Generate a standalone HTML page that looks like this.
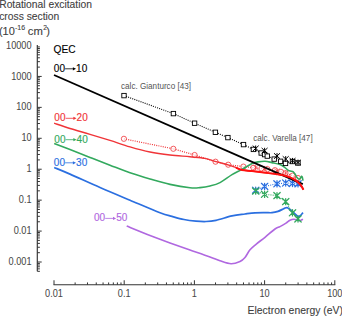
<!DOCTYPE html>
<html><head><meta charset="utf-8"><style>
html,body{margin:0;padding:0;background:#fff;}
body{width:342px;height:316px;overflow:hidden;position:relative;}
svg{position:absolute;left:0;top:0;font-family:"Liberation Sans", sans-serif;}
text{paint-order:stroke;}
</style></head><body>
<svg width="342" height="316" viewBox="0 0 342 316">
<path d="M37.3,45.00 L37.3,271.32" stroke="#333" stroke-width="1.15"/>
<path d="M37.3,271.32 h2.6 M37.3,268.87 h2.6 M37.3,266.80 h2.6 M37.3,265.01 h2.6 M37.3,263.43 h2.6 M37.3,262.01 h4.4 M37.3,252.70 h2.6 M37.3,247.25 h2.6 M37.3,243.39 h2.6 M37.3,240.39 h2.6 M37.3,237.94 h2.6 M37.3,235.87 h2.6 M37.3,234.08 h2.6 M37.3,232.50 h2.6 M37.3,231.08 h4.4 M37.3,221.77 h2.6 M37.3,216.32 h2.6 M37.3,212.46 h2.6 M37.3,209.46 h2.6 M37.3,207.01 h2.6 M37.3,204.94 h2.6 M37.3,203.15 h2.6 M37.3,201.57 h2.6 M37.3,200.15 h4.4 M37.3,190.84 h2.6 M37.3,185.39 h2.6 M37.3,181.53 h2.6 M37.3,178.53 h2.6 M37.3,176.08 h2.6 M37.3,174.01 h2.6 M37.3,172.22 h2.6 M37.3,170.64 h2.6 M37.3,169.22 h4.4 M37.3,159.91 h2.6 M37.3,154.46 h2.6 M37.3,150.60 h2.6 M37.3,147.60 h2.6 M37.3,145.15 h2.6 M37.3,143.08 h2.6 M37.3,141.29 h2.6 M37.3,139.71 h2.6 M37.3,138.29 h4.4 M37.3,128.98 h2.6 M37.3,123.53 h2.6 M37.3,119.67 h2.6 M37.3,116.67 h2.6 M37.3,114.22 h2.6 M37.3,112.15 h2.6 M37.3,110.36 h2.6 M37.3,108.78 h2.6 M37.3,107.36 h4.4 M37.3,98.05 h2.6 M37.3,92.60 h2.6 M37.3,88.74 h2.6 M37.3,85.74 h2.6 M37.3,83.29 h2.6 M37.3,81.22 h2.6 M37.3,79.43 h2.6 M37.3,77.85 h2.6 M37.3,76.43 h4.4 M37.3,67.12 h2.6 M37.3,61.67 h2.6 M37.3,57.81 h2.6 M37.3,54.81 h2.6 M37.3,52.36 h2.6 M37.3,50.29 h2.6 M37.3,48.50 h2.6 M37.3,46.92 h2.6" stroke="#333" stroke-width="1"/>
<path d="M53.50,284.75 L335.30,284.75" stroke="#333" stroke-width="1.15"/>
<path d="M54.00,284.75 v-4.5 M75.13,284.75 v-2.3 M87.49,284.75 v-2.3 M96.26,284.75 v-2.3 M103.07,284.75 v-2.3 M108.63,284.75 v-2.3 M113.33,284.75 v-2.3 M117.40,284.75 v-2.3 M120.99,284.75 v-2.3 M124.20,284.75 v-4.5 M145.33,284.75 v-2.3 M157.69,284.75 v-2.3 M166.46,284.75 v-2.3 M173.27,284.75 v-2.3 M178.83,284.75 v-2.3 M183.53,284.75 v-2.3 M187.60,284.75 v-2.3 M191.19,284.75 v-2.3 M194.40,284.75 v-4.5 M215.53,284.75 v-2.3 M227.89,284.75 v-2.3 M236.66,284.75 v-2.3 M243.47,284.75 v-2.3 M249.03,284.75 v-2.3 M253.73,284.75 v-2.3 M257.80,284.75 v-2.3 M261.39,284.75 v-2.3 M264.60,284.75 v-4.5 M285.73,284.75 v-2.3 M298.09,284.75 v-2.3 M306.86,284.75 v-2.3 M313.67,284.75 v-2.3 M319.23,284.75 v-2.3 M323.93,284.75 v-2.3 M328.00,284.75 v-2.3 M331.59,284.75 v-2.3 M334.80,284.75 v-4.5" stroke="#333" stroke-width="1"/>
<text transform="translate(31.60,48.60) scale(0.92,1)" font-size="10" text-anchor="end" fill="#474747" stroke="#474747" stroke-width="0.05">10000</text>
<text transform="translate(31.60,79.53) scale(0.92,1)" font-size="10" text-anchor="end" fill="#474747" stroke="#474747" stroke-width="0.05">1000</text>
<text transform="translate(31.60,110.46) scale(0.92,1)" font-size="10" text-anchor="end" fill="#474747" stroke="#474747" stroke-width="0.05">100</text>
<text transform="translate(31.60,141.39) scale(0.92,1)" font-size="10" text-anchor="end" fill="#474747" stroke="#474747" stroke-width="0.05">10</text>
<text transform="translate(31.60,172.32) scale(0.92,1)" font-size="10" text-anchor="end" fill="#474747" stroke="#474747" stroke-width="0.05">1</text>
<text transform="translate(31.60,203.25) scale(0.92,1)" font-size="10" text-anchor="end" fill="#474747" stroke="#474747" stroke-width="0.05">0.1</text>
<text transform="translate(31.60,234.18) scale(0.92,1)" font-size="10" text-anchor="end" fill="#474747" stroke="#474747" stroke-width="0.05">0.01</text>
<text transform="translate(31.60,265.11) scale(0.92,1)" font-size="10" text-anchor="end" fill="#474747" stroke="#474747" stroke-width="0.05">0.001</text>
<text transform="translate(54.00,297.30) scale(0.92,1)" font-size="10" text-anchor="middle" fill="#474747" stroke="#474747" stroke-width="0.05">0.01</text>
<text transform="translate(124.20,297.30) scale(0.92,1)" font-size="10" text-anchor="middle" fill="#474747" stroke="#474747" stroke-width="0.05">0.1</text>
<text transform="translate(194.40,297.30) scale(0.92,1)" font-size="10" text-anchor="middle" fill="#474747" stroke="#474747" stroke-width="0.05">1</text>
<text transform="translate(264.60,297.30) scale(0.92,1)" font-size="10" text-anchor="middle" fill="#474747" stroke="#474747" stroke-width="0.05">10</text>
<text transform="translate(334.80,297.30) scale(0.92,1)" font-size="10" text-anchor="middle" fill="#474747" stroke="#474747" stroke-width="0.05">100</text>
<text x="-0.80" y="7.60" font-size="10.3" fill="#404040" stroke="#404040" stroke-width="0.1">Rotational excitation</text>
<text x="-0.80" y="20.40" font-size="10.3" fill="#404040" stroke="#404040" stroke-width="0.1">cross section</text>
<text x="-1.07" y="34.80" font-size="11" fill="#404040" stroke="#404040" stroke-width="0.1">(10</text>
<text x="15.00" y="30.40" font-size="7" fill="#404040" stroke="#404040" stroke-width="0.1">-16</text>
<text x="27.80" y="34.80" font-size="11.3" fill="#404040" stroke="#404040" stroke-width="0.1">cm</text>
<text x="43.20" y="30.40" font-size="6.6" fill="#404040" stroke="#404040" stroke-width="0.1">2</text>
<text x="46.30" y="34.80" font-size="11" fill="#404040" stroke="#404040" stroke-width="0.1">)</text>
<text x="247.60" y="314.10" font-size="10.4" fill="#404040" stroke="#404040" stroke-width="0.1">Electron energy (eV)</text>
<text x="53.50" y="53.20" font-size="10.2" fill="#000" stroke="#000" stroke-width="0.12">QEC</text>
<text x="53.85" y="71.70" font-size="10" fill="#000" stroke="#000" stroke-width="0.12">00</text>
<path d="M65.10,68.80 H73.80" stroke="#000" stroke-width="0.8" fill="none"/>
<path d="M72.90,67.20 L76.00,68.80 L72.90,70.40 Z" fill="#000"/>
<text x="76.10" y="71.70" font-size="10" fill="#000" stroke="#000" stroke-width="0.12">10</text>
<text x="54.35" y="121.20" font-size="10" fill="#f03438" stroke="#f03438" stroke-width="0.15">00</text>
<path d="M65.60,118.30 H74.30" stroke="#f03438" stroke-width="0.8" fill="none"/>
<path d="M73.40,116.70 L76.50,118.30 L73.40,119.90 Z" fill="#f03438"/>
<text x="76.60" y="121.20" font-size="10" fill="#f03438" stroke="#f03438" stroke-width="0.15">20</text>
<text x="54.35" y="142.60" font-size="10" fill="#33a95e" stroke="#33a95e" stroke-width="0.15">00</text>
<path d="M65.60,139.70 H74.30" stroke="#33a95e" stroke-width="0.8" fill="none"/>
<path d="M73.40,138.10 L76.50,139.70 L73.40,141.30 Z" fill="#33a95e"/>
<text x="76.60" y="142.60" font-size="10" fill="#33a95e" stroke="#33a95e" stroke-width="0.15">40</text>
<text x="53.85" y="165.70" font-size="10" fill="#2b6fe0" stroke="#2b6fe0" stroke-width="0.15">00</text>
<path d="M65.10,162.80 H73.80" stroke="#2b6fe0" stroke-width="0.8" fill="none"/>
<path d="M72.90,161.20 L76.00,162.80 L72.90,164.40 Z" fill="#2b6fe0"/>
<text x="76.10" y="165.70" font-size="10" fill="#2b6fe0" stroke="#2b6fe0" stroke-width="0.15">30</text>
<text x="93.95" y="221.30" font-size="10" fill="#b068e0" stroke="#b068e0" stroke-width="0.15">00</text>
<path d="M105.20,218.40 H113.90" stroke="#b068e0" stroke-width="0.8" fill="none"/>
<path d="M113.00,216.80 L116.10,218.40 L113.00,220.00 Z" fill="#b068e0"/>
<text x="116.20" y="221.30" font-size="10" fill="#b068e0" stroke="#b068e0" stroke-width="0.15">50</text>
<text x="121.00" y="89.00" font-size="8.15" fill="#555">calc. Gianturco [43]</text>
<text x="253.20" y="140.90" font-size="8.15" fill="#555">calc. Varella [47]</text>
<path d="M126.70,226.10 C130.58,227.67 142.78,232.70 150.00,235.50 C157.22,238.30 163.33,240.50 170.00,242.90 C176.67,245.30 183.33,247.57 190.00,249.90 C196.67,252.23 205.00,255.08 210.00,256.90 C215.00,258.72 216.50,259.65 220.00,260.80 C223.50,261.95 227.67,263.68 231.00,263.80 C234.33,263.92 237.67,262.55 240.00,261.50 C242.33,260.45 243.33,259.45 245.00,257.50 C246.67,255.55 248.17,252.00 250.00,249.80 C251.83,247.60 253.50,246.38 256.00,244.30 C258.50,242.22 261.83,239.85 265.00,237.30 C268.17,234.75 272.50,230.78 275.00,229.00 C277.50,227.22 278.17,227.58 280.00,226.60 C281.83,225.62 284.33,224.17 286.00,223.10 C287.67,222.03 288.67,220.83 290.00,220.20 C291.33,219.57 292.67,219.28 294.00,219.30 C295.33,219.32 297.00,220.07 298.00,220.30 C299.00,220.53 299.17,220.88 300.00,220.70 C300.83,220.52 302.50,219.45 303.00,219.20" stroke="#b068e0" stroke-width="1.6" fill="none"/>
<path d="M54.20,167.50 C56.83,168.60 62.37,170.77 70.00,174.10 C77.63,177.43 90.00,183.15 100.00,187.50 C110.00,191.85 120.00,196.00 130.00,200.20 C140.00,204.40 153.00,210.00 160.00,212.70 C167.00,215.40 168.00,215.27 172.00,216.40 C176.00,217.53 180.00,218.72 184.00,219.50 C188.00,220.28 192.33,220.77 196.00,221.10 C199.67,221.43 202.67,221.63 206.00,221.50 C209.33,221.37 211.67,221.23 216.00,220.30 C220.33,219.37 227.17,216.95 232.00,215.90 C236.83,214.85 241.17,214.52 245.00,214.00 C248.83,213.48 251.67,213.03 255.00,212.80 C258.33,212.57 262.17,212.62 265.00,212.60 C267.83,212.58 269.83,212.90 272.00,212.70 C274.17,212.50 276.00,212.08 278.00,211.40 C280.00,210.72 282.50,209.23 284.00,208.60 C285.50,207.97 286.00,207.45 287.00,207.60 C288.00,207.75 288.83,208.63 290.00,209.50 C291.17,210.37 292.83,211.77 294.00,212.80 C295.17,213.83 296.17,215.10 297.00,215.70 C297.83,216.30 298.33,216.52 299.00,216.40 C299.67,216.28 300.33,215.63 301.00,215.00 C301.67,214.37 302.67,213.00 303.00,212.60" stroke="#2b6fe0" stroke-width="1.7" fill="none"/>
<path d="M255.70,190.20 L264.60,186.40 L277.00,183.80 L285.70,183.00 L292.50,183.40 L298.00,183.80" stroke="#2b6fe0" stroke-width="1.1" stroke-dasharray="1 1.2" fill="none"/>
<path d="M252.50,187.10 L258.90,193.30 M252.50,193.30 L258.90,187.10 M255.70,187.10 v6.20" stroke="#2b6fe0" stroke-width="1.25" stroke-linecap="round" fill="none"/>
<path d="M261.40,183.30 L267.80,189.50 M261.40,189.50 L267.80,183.30 M264.60,183.30 v6.20" stroke="#2b6fe0" stroke-width="1.25" stroke-linecap="round" fill="none"/>
<path d="M273.80,180.70 L280.20,186.90 M273.80,186.90 L280.20,180.70 M277.00,180.70 v6.20" stroke="#2b6fe0" stroke-width="1.25" stroke-linecap="round" fill="none"/>
<path d="M282.50,179.90 L288.90,186.10 M282.50,186.10 L288.90,179.90 M285.70,179.90 v6.20" stroke="#2b6fe0" stroke-width="1.25" stroke-linecap="round" fill="none"/>
<path d="M289.30,180.30 L295.70,186.50 M289.30,186.50 L295.70,180.30 M292.50,180.30 v6.20" stroke="#2b6fe0" stroke-width="1.25" stroke-linecap="round" fill="none"/>
<path d="M294.80,180.70 L301.20,186.90 M294.80,186.90 L301.20,180.70 M298.00,180.70 v6.20" stroke="#2b6fe0" stroke-width="1.25" stroke-linecap="round" fill="none"/>
<path d="M255.70,191.10 L264.60,194.30 L277.00,195.60 L285.70,201.60 L292.50,212.80 L298.00,218.90" stroke="#33a95e" stroke-width="1.1" stroke-dasharray="1 1.2" fill="none"/>
<path d="M252.50,188.00 L258.90,194.20 M252.50,194.20 L258.90,188.00 M255.70,188.00 v6.20" stroke="#33a95e" stroke-width="1.25" stroke-linecap="round" fill="none"/>
<path d="M261.40,191.20 L267.80,197.40 M261.40,197.40 L267.80,191.20 M264.60,191.20 v6.20" stroke="#33a95e" stroke-width="1.25" stroke-linecap="round" fill="none"/>
<path d="M273.80,192.50 L280.20,198.70 M273.80,198.70 L280.20,192.50 M277.00,192.50 v6.20" stroke="#33a95e" stroke-width="1.25" stroke-linecap="round" fill="none"/>
<path d="M282.50,198.50 L288.90,204.70 M282.50,204.70 L288.90,198.50 M285.70,198.50 v6.20" stroke="#33a95e" stroke-width="1.25" stroke-linecap="round" fill="none"/>
<path d="M289.30,209.70 L295.70,215.90 M289.30,215.90 L295.70,209.70 M292.50,209.70 v6.20" stroke="#33a95e" stroke-width="1.25" stroke-linecap="round" fill="none"/>
<path d="M294.80,215.80 L301.20,222.00 M294.80,222.00 L301.20,215.80 M298.00,215.80 v6.20" stroke="#33a95e" stroke-width="1.25" stroke-linecap="round" fill="none"/>
<path d="M123.90,138.80 L173.30,148.80 L194.60,155.00 L215.50,161.70 L228.20,164.70 L243.40,166.60 L253.40,167.70 L261.40,168.50 L267.50,169.20 L274.90,170.20 L280.90,171.80 L285.50,173.20 L292.50,175.60 L298.00,178.00" stroke="#f03438" stroke-width="1.2" stroke-dasharray="1 1.2" fill="none"/>
<circle cx="123.9" cy="138.8" r="2.6" stroke="#f03438" stroke-width="0.8" fill="#fff" fill-opacity="0.6"/>
<circle cx="173.3" cy="148.8" r="2.6" stroke="#f03438" stroke-width="0.8" fill="#fff" fill-opacity="0.6"/>
<circle cx="194.6" cy="155.0" r="2.6" stroke="#f03438" stroke-width="0.8" fill="#fff" fill-opacity="0.6"/>
<circle cx="215.5" cy="161.7" r="2.6" stroke="#f03438" stroke-width="0.8" fill="#fff" fill-opacity="0.6"/>
<circle cx="228.2" cy="164.7" r="2.6" stroke="#f03438" stroke-width="0.8" fill="#fff" fill-opacity="0.6"/>
<circle cx="243.4" cy="166.6" r="2.6" stroke="#f03438" stroke-width="0.8" fill="#fff" fill-opacity="0.6"/>
<circle cx="253.4" cy="167.7" r="2.6" stroke="#f03438" stroke-width="0.8" fill="#fff" fill-opacity="0.6"/>
<circle cx="261.4" cy="168.5" r="2.6" stroke="#f03438" stroke-width="0.8" fill="#fff" fill-opacity="0.6"/>
<circle cx="267.5" cy="169.2" r="2.6" stroke="#f03438" stroke-width="0.8" fill="#fff" fill-opacity="0.6"/>
<circle cx="274.9" cy="170.2" r="2.6" stroke="#f03438" stroke-width="0.8" fill="#fff" fill-opacity="0.6"/>
<circle cx="280.9" cy="171.8" r="2.6" stroke="#f03438" stroke-width="0.8" fill="#fff" fill-opacity="0.6"/>
<circle cx="285.5" cy="173.2" r="2.6" stroke="#f03438" stroke-width="0.8" fill="#fff" fill-opacity="0.6"/>
<circle cx="292.5" cy="175.6" r="2.6" stroke="#f03438" stroke-width="0.8" fill="#fff" fill-opacity="0.6"/>
<circle cx="298" cy="178.0" r="2.6" stroke="#f03438" stroke-width="0.8" fill="#fff" fill-opacity="0.6"/>
<path d="M253.30,165.30 L258.10,169.70 M253.30,169.70 L258.10,165.30 M255.70,165.30 v4.40" stroke="#f03438" stroke-width="0.6" stroke-linecap="round" fill="none"/>
<path d="M262.20,166.30 L267.00,170.70 M262.20,170.70 L267.00,166.30 M264.60,166.30 v4.40" stroke="#f03438" stroke-width="0.6" stroke-linecap="round" fill="none"/>
<path d="M274.60,168.80 L279.40,173.20 M274.60,173.20 L279.40,168.80 M277.00,168.80 v4.40" stroke="#f03438" stroke-width="0.6" stroke-linecap="round" fill="none"/>
<path d="M283.30,170.80 L288.10,175.20 M283.30,175.20 L288.10,170.80 M285.70,170.80 v4.40" stroke="#f03438" stroke-width="0.6" stroke-linecap="round" fill="none"/>
<path d="M54.10,123.20 C56.75,124.08 64.02,126.65 70.00,128.50 C75.98,130.35 83.33,132.32 90.00,134.30 C96.67,136.28 103.33,138.30 110.00,140.40 C116.67,142.50 123.33,144.97 130.00,146.90 C136.67,148.83 143.33,150.65 150.00,152.00 C156.67,153.35 163.33,154.20 170.00,155.00 C176.67,155.80 184.17,156.23 190.00,156.80 C195.83,157.37 200.83,157.65 205.00,158.40 C209.17,159.15 211.17,160.23 215.00,161.30 C218.83,162.37 224.50,163.75 228.00,164.80 C231.50,165.85 233.67,166.73 236.00,167.60 C238.33,168.47 239.33,169.42 242.00,170.00 C244.67,170.58 248.33,170.67 252.00,171.10 C255.67,171.53 260.00,172.12 264.00,172.60 C268.00,173.08 272.50,173.47 276.00,174.00 C279.50,174.53 282.67,175.23 285.00,175.80 C287.33,176.37 288.50,176.80 290.00,177.40 C291.50,178.00 292.83,178.72 294.00,179.40 C295.17,180.08 296.00,180.70 297.00,181.50 C298.00,182.30 299.17,183.30 300.00,184.20 C300.83,185.10 301.43,185.97 302.00,186.90 C302.57,187.83 303.17,189.32 303.40,189.80" stroke="#f03438" stroke-width="1.4" fill="none"/>
<path d="M54.20,143.40 C56.83,144.43 64.03,147.27 70.00,149.60 C75.97,151.93 83.33,154.80 90.00,157.40 C96.67,160.00 103.33,162.63 110.00,165.20 C116.67,167.77 123.33,170.50 130.00,172.80 C136.67,175.10 143.33,177.07 150.00,179.00 C156.67,180.93 163.33,182.95 170.00,184.40 C176.67,185.85 185.00,187.17 190.00,187.70 C195.00,188.23 196.67,187.88 200.00,187.60 C203.33,187.32 206.67,186.83 210.00,186.00 C213.33,185.17 216.33,184.50 220.00,182.60 C223.67,180.70 228.33,176.80 232.00,174.60 C235.67,172.40 238.67,171.25 242.00,169.40 C245.33,167.55 249.33,164.75 252.00,163.50 C254.67,162.25 255.83,162.28 258.00,161.90 C260.17,161.52 262.67,161.08 265.00,161.20 C267.33,161.32 269.50,162.03 272.00,162.60 C274.50,163.17 277.83,163.77 280.00,164.60 C282.17,165.43 283.67,166.67 285.00,167.60 C286.33,168.53 287.00,169.60 288.00,170.20 C289.00,170.80 290.17,170.97 291.00,171.20 C291.83,171.43 292.33,171.13 293.00,171.60 C293.67,172.07 294.33,173.00 295.00,174.00 C295.67,175.00 296.33,176.72 297.00,177.60 C297.67,178.48 298.45,179.18 299.00,179.30 C299.55,179.42 299.88,178.80 300.30,178.30 C300.72,177.80 301.17,176.48 301.50,176.30 C301.83,176.12 302.05,176.47 302.30,177.20 C302.55,177.93 302.88,180.12 303.00,180.70" stroke="#33a95e" stroke-width="1.6" fill="none"/>
<path d="M236.00,167.60 C237.00,168.00 239.33,169.42 242.00,170.00 C244.67,170.58 248.33,170.67 252.00,171.10 C255.67,171.53 260.00,172.12 264.00,172.60 C268.00,173.08 274.00,173.77 276.00,174.00" stroke="#ff1010" stroke-width="2.0" fill="none"/>
<path d="M54,75 L302.8,184.2" stroke="#000" stroke-width="1.9" fill="none"/>
<path d="M276.00,174.00 C277.50,174.30 282.67,175.23 285.00,175.80 C287.33,176.37 288.50,176.80 290.00,177.40 C291.50,178.00 292.83,178.72 294.00,179.40 C295.17,180.08 296.00,180.70 297.00,181.50 C298.00,182.30 299.17,183.30 300.00,184.20 C300.83,185.10 301.43,185.97 302.00,186.90 C302.57,187.83 303.17,189.32 303.40,189.80" stroke="#ff1010" stroke-width="2.0" fill="none"/>
<path d="M124.00,95.60 L173.40,113.60 L194.60,123.20 L215.40,132.30 L227.90,137.60 L243.50,144.60 L253.40,149.40 L261.20,153.00 L264.60,154.60 L267.30,156.10 L274.20,159.10 L280.60,161.30 L285.50,163.40 L292.50,161.50 L298.00,163.00" stroke="#000" stroke-width="1.1" stroke-dasharray="1 1.2" fill="none"/>
<rect x="121.80" y="93.40" width="4.4" height="4.4" stroke="#000" stroke-width="0.9" fill="#fff"/>
<rect x="171.20" y="111.40" width="4.4" height="4.4" stroke="#000" stroke-width="0.9" fill="#fff"/>
<rect x="192.40" y="121.00" width="4.4" height="4.4" stroke="#000" stroke-width="0.9" fill="#fff"/>
<rect x="213.20" y="130.10" width="4.4" height="4.4" stroke="#000" stroke-width="0.9" fill="#fff"/>
<rect x="225.70" y="135.40" width="4.4" height="4.4" stroke="#000" stroke-width="0.9" fill="#fff"/>
<rect x="241.30" y="142.40" width="4.4" height="4.4" stroke="#000" stroke-width="0.9" fill="#fff"/>
<rect x="251.20" y="147.20" width="4.4" height="4.4" stroke="#000" stroke-width="0.9" fill="#fff"/>
<rect x="259.00" y="150.80" width="4.4" height="4.4" stroke="#000" stroke-width="0.9" fill="#fff"/>
<rect x="262.40" y="152.40" width="4.4" height="4.4" stroke="#000" stroke-width="0.9" fill="#fff"/>
<rect x="265.10" y="153.90" width="4.4" height="4.4" stroke="#000" stroke-width="0.9" fill="#fff"/>
<rect x="272.00" y="156.90" width="4.4" height="4.4" stroke="#000" stroke-width="0.9" fill="#fff"/>
<rect x="278.40" y="159.10" width="4.4" height="4.4" stroke="#000" stroke-width="0.9" fill="#fff"/>
<rect x="283.30" y="161.20" width="4.4" height="4.4" stroke="#000" stroke-width="0.9" fill="#fff"/>
<rect x="290.30" y="159.30" width="4.4" height="4.4" stroke="#000" stroke-width="0.9" fill="#fff"/>
<rect x="295.80" y="160.80" width="4.4" height="4.4" stroke="#000" stroke-width="0.9" fill="#fff"/>
<path d="M253.00,145.90 L258.40,150.90 M253.00,150.90 L258.40,145.90 M255.70,145.90 v5.00" stroke="#000" stroke-width="1.0" stroke-linecap="round" fill="none"/>
<path d="M261.90,148.20 L267.30,153.20 M261.90,153.20 L267.30,148.20 M264.60,148.20 v5.00" stroke="#000" stroke-width="1.0" stroke-linecap="round" fill="none"/>
<path d="M274.30,153.50 L279.70,158.50 M274.30,158.50 L279.70,153.50 M277.00,153.50 v5.00" stroke="#000" stroke-width="1.0" stroke-linecap="round" fill="none"/>
<path d="M283.00,156.50 L288.40,161.50 M283.00,161.50 L288.40,156.50 M285.70,156.50 v5.00" stroke="#000" stroke-width="1.0" stroke-linecap="round" fill="none"/>
<path d="M289.80,158.30 L295.20,163.30 M289.80,163.30 L295.20,158.30 M292.50,158.30 v5.00" stroke="#000" stroke-width="1.0" stroke-linecap="round" fill="none"/>
<path d="M295.30,160.00 L300.70,165.00 M295.30,165.00 L300.70,160.00 M298.00,160.00 v5.00" stroke="#000" stroke-width="1.0" stroke-linecap="round" fill="none"/>
</svg>
</body></html>
